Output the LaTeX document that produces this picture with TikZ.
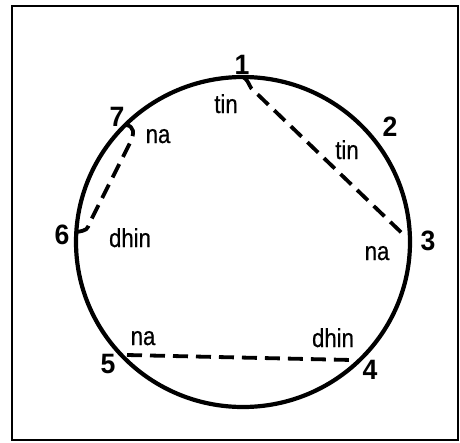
\documentclass[tikz,border=0pt]{standalone}
\usepackage{fontspec}
\setmainfont{Liberation Sans}
\newfontfamily\wordfont[FakeStretch=0.85,FakeBold=0.6]{Liberation Sans}
\newfontfamily\numfont[FakeStretch=0.95]{Liberation Sans}
\begin{document}
\begin{tikzpicture}[x=1pt,y=-1pt,
  frame/.style={line width=1.8pt},
  ring/.style={line width=4.2pt},
  link/.style={line width=3.8pt,dash pattern=on 15pt off 8pt,line join=round},
  word/.style={inner sep=0pt,anchor=base,font=\wordfont\fontsize{26}{26}\selectfont},
  num/.style={inner sep=0pt,font=\numfont\bfseries\fontsize{28}{28}\selectfont}]
\useasboundingbox (0,0) rectangle (460,442);
\draw[frame] (12,6) rectangle (458,440);
\draw[ring] (243,242) ellipse [x radius=167, y radius=165];
% points on the circle
\coordinate (p1) at (243,77);
\coordinate (p3) at (406,237);
\coordinate (p4) at (352,360);
\coordinate (p5) at (127,355);
\coordinate (p6) at (77,232);
\coordinate (p7) at (126,125);
\coordinate (b1) at (251,88);
\coordinate (b7) at (130,143);
\coordinate (b6) at (90,222);
% dashed links
\draw[link] (p1) .. controls (247,80) .. (b1) -- (p3);
\draw[link] (p7) .. controls (134,126) and (135,133) .. (b7) -- (b6) .. controls (87,230) .. (p6);
\draw[link] (p5) -- (p4);
% numbers
\node[num] (n1) at (242,65) {1};
\node[num] (n2) at (390,127) {2};
\node[num] (n3) at (428,241) {3};
\node[num] (n4) at (370,370) {4};
\node[num] (n5) at (108,364) {5};
\node[num] (n6) at (62,235) {6};
\node[num] (n7) at (117,117) {7};
% syllables
\node[word] (w1) at (226,113) {tin};
\node[word] (w7) at (158,143) {na};
\node[word] (w2) at (347,159) {tin};
\node[word] (w3) at (377,260) {na};
\node[word] (w6) at (130,247) {dhin};
\node[word] (w5) at (143,345) {na};
\node[word] (w4) at (333,347) {dhin};
\end{tikzpicture}
\end{document}
